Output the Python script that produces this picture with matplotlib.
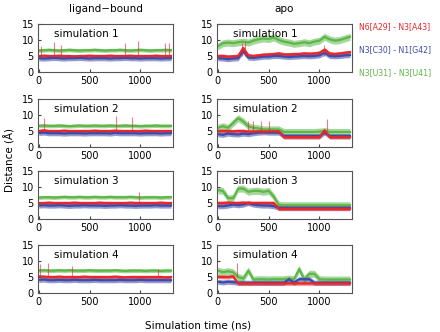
import matplotlib.pyplot as plt
import numpy as np

# time grid (ns)
t = np.arange(0, 1301, 50)

# ligand-bound: mean distances (A) at each time point
lig_red = [
    [5.0, 5.1, 5.0, 5.0, 5.1, 5.0, 5.0, 4.9, 5.0, 5.0, 5.1, 5.0, 5.0, 5.0, 5.1, 5.0, 5.0, 5.0, 5.1, 5.0, 5.0, 5.0, 5.0, 5.1, 5.0, 5.0, 5.0],
    [5.0, 5.2, 5.0, 5.0, 5.0, 5.1, 5.0, 5.0, 5.0, 5.0, 5.0, 5.1, 5.0, 5.0, 5.0, 5.1, 5.0, 5.0, 5.0, 5.0, 5.0, 5.1, 5.0, 5.0, 5.0, 5.0, 5.0],
    [5.0, 5.0, 5.1, 5.0, 5.0, 5.0, 5.0, 5.1, 5.0, 5.0, 5.0, 5.0, 5.1, 5.0, 5.0, 5.0, 5.0, 5.0, 5.1, 5.0, 5.0, 5.0, 5.0, 5.0, 5.1, 5.0, 5.0],
    [5.2, 5.1, 5.0, 5.0, 5.1, 5.0, 5.0, 5.0, 5.0, 5.1, 5.0, 5.0, 5.0, 5.0, 5.0, 5.1, 5.0, 4.9, 5.0, 5.0, 5.0, 5.0, 5.0, 5.0, 5.0, 4.9, 5.0],
]
lig_blue = [
    [4.3, 4.2, 4.3, 4.4, 4.3, 4.2, 4.3, 4.3, 4.4, 4.3, 4.2, 4.3, 4.3, 4.3, 4.2, 4.3, 4.3, 4.4, 4.3, 4.3, 4.2, 4.3, 4.3, 4.3, 4.2, 4.3, 4.3],
    [4.4, 4.5, 4.3, 4.3, 4.3, 4.2, 4.3, 4.3, 4.3, 4.2, 4.3, 4.3, 4.3, 4.3, 4.2, 4.4, 4.3, 4.3, 4.3, 4.3, 4.2, 4.3, 4.3, 4.3, 4.2, 4.3, 4.3],
    [4.2, 4.3, 4.2, 4.2, 4.3, 4.2, 4.1, 4.2, 4.2, 4.3, 4.2, 4.2, 4.2, 4.1, 4.2, 4.2, 4.3, 4.2, 4.2, 4.1, 4.2, 4.2, 4.2, 4.3, 4.2, 4.2, 4.2],
    [4.1, 4.2, 4.0, 4.0, 4.1, 4.0, 4.0, 4.1, 4.0, 4.0, 4.0, 4.1, 4.0, 4.0, 4.0, 4.0, 4.1, 4.0, 4.0, 4.0, 4.1, 4.0, 4.0, 4.0, 4.0, 4.0, 4.0],
]
lig_green = [
    [6.7, 6.8, 6.9, 6.8, 6.7, 6.8, 6.9, 6.8, 6.7, 6.8, 6.8, 6.9, 6.8, 6.7, 6.8, 6.8, 6.9, 6.8, 6.7, 6.8, 6.9, 6.8, 6.7, 6.8, 6.8, 6.9, 6.8],
    [6.6, 6.7, 6.6, 6.6, 6.7, 6.6, 6.5, 6.6, 6.7, 6.6, 6.6, 6.7, 6.6, 6.6, 6.7, 6.6, 6.6, 6.7, 6.6, 6.6, 6.5, 6.6, 6.6, 6.7, 6.6, 6.6, 6.6],
    [6.7, 6.8, 6.8, 6.7, 6.8, 6.9, 6.8, 6.8, 6.9, 6.8, 6.8, 6.9, 6.8, 6.8, 6.9, 6.8, 6.8, 6.8, 6.9, 6.8, 6.7, 6.8, 6.8, 6.8, 6.7, 6.8, 6.8],
    [7.0, 7.1, 7.0, 7.0, 7.1, 7.0, 7.1, 7.0, 7.0, 7.0, 7.1, 7.0, 7.0, 7.0, 7.0, 7.1, 7.0, 6.9, 7.0, 7.0, 7.0, 6.9, 7.0, 7.0, 6.9, 7.0, 7.0],
]

# apo: mean distances (A) at each time point
apo_red = [
    [5.0, 5.0, 4.8, 4.9, 5.0, 7.5, 5.2, 5.0, 5.2, 5.4, 5.5, 5.6, 5.8, 5.5, 5.5, 5.6, 5.6, 5.8, 5.7, 5.8, 6.0, 7.0, 5.8, 5.6, 5.8, 6.0, 6.2],
    [5.0, 5.0, 5.0, 4.9, 5.0, 5.0, 4.8, 4.8, 4.9, 4.8, 4.9, 4.9, 4.9, 3.1, 3.1, 3.1, 3.1, 3.1, 3.1, 3.1, 3.1, 5.2, 3.1, 3.1, 3.1, 3.1, 3.1],
    [5.0, 5.0, 5.1, 5.0, 5.0, 5.1, 5.0, 5.0, 5.0, 5.0, 5.0, 5.0, 3.2, 3.2, 3.2, 3.2, 3.2, 3.2, 3.2, 3.2, 3.2, 3.2, 3.2, 3.2, 3.2, 3.2, 3.2],
    [5.1, 5.0, 5.0, 5.2, 3.0, 3.0, 3.0, 3.0, 3.0, 3.0, 3.0, 3.0, 3.0, 3.0, 3.0, 3.0, 3.0, 3.0, 3.0, 3.0, 3.0, 3.0, 3.0, 3.0, 3.0, 3.0, 3.0],
]
apo_blue = [
    [4.3, 4.2, 4.0, 4.2, 4.3, 6.5, 4.5, 4.4, 4.6, 4.8, 4.8, 5.0, 5.0, 4.8, 4.7, 4.8, 4.9, 5.0, 4.9, 5.0, 5.2, 6.0, 5.0, 4.9, 5.0, 5.2, 5.3],
    [4.0, 3.8, 4.2, 4.0, 3.9, 4.2, 4.0, 4.3, 4.5, 4.6, 4.5, 4.5, 4.5, 3.4, 3.4, 3.4, 3.4, 3.4, 3.4, 3.4, 3.4, 4.5, 3.4, 3.4, 3.4, 3.4, 3.4],
    [4.0, 4.0, 4.2, 4.5, 4.3, 4.5, 5.0, 4.5, 4.3, 4.2, 4.2, 4.0, 3.5, 3.5, 3.5, 3.5, 3.5, 3.5, 3.5, 3.5, 3.5, 3.5, 3.5, 3.5, 3.5, 3.5, 3.5],
    [3.5, 3.3, 3.5, 3.4, 3.2, 3.2, 3.2, 3.2, 3.2, 3.2, 3.2, 3.2, 3.2, 3.2, 4.3, 3.2, 4.3, 4.3, 4.3, 3.2, 3.2, 3.2, 3.2, 3.2, 3.2, 3.2, 3.2],
]
apo_green = [
    [8.0, 9.0, 9.2, 9.0, 9.3, 9.5, 9.2, 9.8, 10.2, 10.5, 10.3, 10.8, 10.0, 9.5, 9.2, 8.8, 9.0, 9.3, 9.0, 9.5, 9.8, 11.0, 10.2, 9.8, 10.0, 10.5, 11.0],
    [6.0, 6.5, 6.0, 7.5, 9.0, 8.0, 6.5, 6.0, 5.8, 5.5, 5.5, 5.5, 5.5, 4.7, 4.7, 4.7, 4.7, 4.7, 4.7, 4.7, 4.8, 5.0, 4.7, 4.7, 4.7, 4.7, 4.7],
    [9.0, 8.8, 6.5, 6.5, 9.5, 9.5, 8.5, 8.8, 8.8, 8.5, 8.8, 7.0, 4.4, 4.3, 4.3, 4.3, 4.3, 4.3, 4.3, 4.3, 4.3, 4.3, 4.3, 4.3, 4.3, 4.3, 4.3],
    [7.0, 6.5, 6.8, 6.5, 5.0, 4.5, 7.0, 4.2, 4.3, 4.3, 4.2, 4.3, 4.3, 4.3, 4.5, 4.3, 7.5, 4.3, 6.0, 6.0, 4.3, 4.2, 4.2, 4.2, 4.2, 4.2, 4.2],
]

# noise band half-widths (A): red, blue, green
lig_spread = [0.5, 0.8, 0.6]
apo_spread = [0.6, 0.8, 1.1]

# red spikes (time ns, peak A)
lig_spikes = [
    [(20, 8.0), (150, 9.5), (220, 8.5), (850, 9.0), (980, 9.8), (1240, 9.0), (1280, 9.0)],
    [(50, 9.0), (760, 9.8), (920, 9.5)],
    [(990, 8.5)],
    [(10, 9.0), (90, 9.5), (330, 8.5), (1170, 7.5)],
]
apo_spikes = [
    [(240, 9.0), (270, 9.5), (1040, 8.5)],
    [(300, 8.0), (350, 8.0), (420, 8.0), (500, 8.0), (1070, 8.8)],
    [],
    [(190, 9.5)],
]

colors = ['#e8262b', '#3c4aa8', '#5cb648']
legend_labels = ['N6[A29] - N3[A43]', 'N3[C30] - N1[G42]', 'N3[U31] - N3[U41]']
columns = ['ligand\u2212bound', 'apo']

fig = plt.figure(figsize=(4.4, 3.32), dpi=100)
plt.rcParams['font.family'] = 'DejaVu Sans'

col_x = [38 / 440, 217 / 440]
row_bottom = [72, 147, 219, 293]
ax_w = 135 / 440
ax_h = 48 / 332


def draw_panel(ax, red, blue, green, spread, spikes, n):
    for vals, col, s in [(green, colors[2], spread[2]),
                         (blue, colors[1], spread[1]),
                         (red, colors[0], spread[0])]:
        vals = np.array(vals)
        ax.fill_between(t, vals - s, vals + s, color=col, alpha=0.55, lw=0)
        ax.plot(t, vals, color=col, lw=1.6)
    for ts, peak in spikes:
        ax.vlines(ts, 5.0, peak, color=colors[0], lw=0.8, alpha=0.6)
    ax.set_xlim(-8, 1320)
    ax.set_ylim(0, 15)
    ax.set_xticks([0, 500, 1000])
    ax.set_yticks([0, 5, 10, 15])
    ax.tick_params(direction='in', length=2.5, labelsize=7, pad=3, colors='#444444', labelcolor='black')
    for sp in ax.spines.values():
        sp.set_color('#555555')
        sp.set_linewidth(0.8)
    ax.text(0.12, 0.79, 'simulation %d' % n, transform=ax.transAxes, fontsize=7.5, va='center')


for c in range(2):
    for r in range(4):
        ax = fig.add_axes([col_x[c], 1 - row_bottom[r] / 332, ax_w, ax_h])
        if c == 0:
            draw_panel(ax, lig_red[r], lig_blue[r], lig_green[r], lig_spread, lig_spikes[r], r + 1)
        else:
            draw_panel(ax, apo_red[r], apo_blue[r], apo_green[r], apo_spread, apo_spikes[r], r + 1)
        if r == 0:
            ax.set_title(columns[c], fontsize=7.5, pad=9)

for i, lab in enumerate(legend_labels):
    fig.text(359 / 440, 1 - (27 + 23 * i) / 332, lab, color=colors[i], fontsize=5.6, va='center')

fig.text(10 / 440, 1 - 160 / 332, 'Distance (\u00c5)', rotation=90, fontsize=7.5, ha='center', va='center')
fig.text(198 / 440, 1 - 325 / 332, 'Simulation time (ns)', fontsize=7.5, ha='center', va='center')

plt.savefig('out.png', dpi=100)
